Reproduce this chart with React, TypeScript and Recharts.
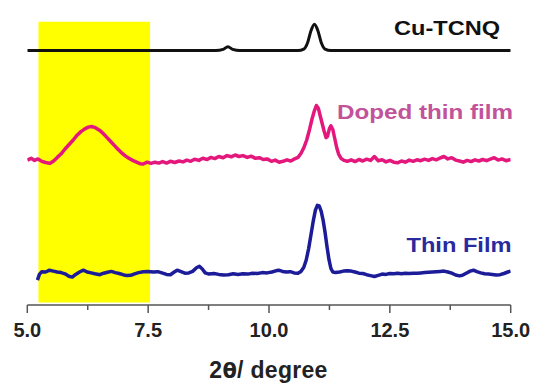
import React from 'react';
import { LineChart, Line, XAxis, YAxis, ReferenceArea } from 'recharts';

// ---------- data ----------
const allTicks = [5, 6.25, 7.5, 8.75, 10, 11.25, 12.5, 13.75, 15];
const majorTicks = [5, 7.5, 10, 12.5, 15];
const tickLabels = ['5.0', '7.5', '10.0', '12.5', '15.0'];
const highlightX = [5.23, 7.54];
const highlightY = [0.8, 94.4];

const seriesNames = ['Cu-TCNQ', 'Doped thin film', 'Thin Film'];
const axisTitle = ['2', 'θ', '/ degree'];

const cuX = [5.0, 8.9, 9.05, 9.15, 9.25, 9.4, 10.6, 10.72, 10.8, 10.87, 10.94, 11.01, 11.08, 11.16, 11.28, 15.0];
const cuY = [84.8, 84.8, 85.2, 86.1, 85.2, 84.8, 84.8, 85.3, 87.5, 91.5, 93.6, 91.5, 87.5, 85.3, 84.8, 84.8];

const dopedX = [
  5.0, 5.08, 5.15, 5.22, 5.3, 5.38, 5.47, 5.55, 5.62, 5.7, 5.78, 5.86, 5.95, 6.03, 6.11, 6.19, 6.26, 6.33,
  6.41, 6.5, 6.58, 6.65, 6.72, 6.8, 6.87, 6.94, 7.02, 7.1, 7.18, 7.26, 7.33, 7.4, 7.48, 7.56, 7.64, 7.72,
  7.8, 7.88, 7.96, 8.05, 8.14, 8.22, 8.3, 8.38, 8.46, 8.55, 8.63, 8.72, 8.8, 8.88, 8.96, 9.05, 9.13, 9.22,
  9.3, 9.38, 9.46, 9.55, 9.63, 9.72, 9.8, 9.88, 9.96, 10.05, 10.13, 10.21, 10.29, 10.37, 10.45, 10.53,
  10.6, 10.66, 10.72, 10.78, 10.84, 10.89, 10.94, 10.98, 11.02, 11.06, 11.1, 11.14, 11.18, 11.21, 11.25,
  11.28, 11.32, 11.36, 11.4, 11.44, 11.49, 11.55, 11.62, 11.7, 11.78, 11.86, 11.94, 12.02, 12.1, 12.18,
  12.26, 12.34, 12.42, 12.5, 12.58, 12.66, 12.74, 12.82, 12.9, 12.98, 13.06, 13.14, 13.22, 13.3, 13.38,
  13.46, 13.54, 13.62, 13.7, 13.78, 13.86, 13.94, 14.02, 14.1, 14.18, 14.26, 14.34, 14.42, 14.5, 14.58,
  14.66, 14.74, 14.82, 14.9, 15.0,
];
const dopedY = [
  48.3, 48.9, 48.2, 48.7, 47.9, 47.5, 47.2, 48.1, 49.2, 50.4, 52.0, 53.4, 55.0, 56.6, 57.8, 58.7, 59.3, 59.5,
  59.1, 58.2, 57.0, 55.8, 54.6, 53.2, 52.0, 50.9, 49.8, 48.9, 48.2, 47.6, 47.1, 47.0, 47.6, 47.2, 47.6, 47.3,
  47.8, 47.3, 47.9, 47.5, 48.0, 47.7, 48.3, 47.9, 48.6, 48.2, 48.9, 48.5, 49.2, 48.8, 49.5, 49.1, 49.8, 49.4,
  50.0, 49.5, 49.8, 49.2, 49.6, 48.9, 49.1, 48.5, 48.7, 47.9, 48.3, 47.6, 47.9, 48.4, 48.0, 48.7,
  49.2, 50.5, 52.4, 55.0, 58.6, 62.0, 64.8, 66.5, 65.6, 63.0, 60.5, 58.0, 55.8, 56.2, 58.8,
  59.7, 58.5, 55.5, 52.5, 50.3, 48.9, 48.2, 47.9, 48.4, 47.8, 48.5, 48.0, 48.6, 48.2, 49.5,
  48.1, 48.4, 47.7, 48.2, 47.6, 47.4, 48.0, 47.6, 48.3, 47.9, 48.4, 48.1, 48.6, 48.2, 48.8,
  48.4, 49.0, 49.5, 48.7, 49.1, 48.3, 48.0, 47.6, 48.2, 47.8, 48.4, 48.0, 48.5, 48.1, 48.6,
  49.1, 48.3, 48.7, 48.1, 48.5,
];

const filmX = [
  5.21, 5.25, 5.3, 5.38, 5.46, 5.54, 5.62, 5.7, 5.78, 5.86, 5.93, 6.0, 6.08, 6.16, 6.24, 6.32, 6.4, 6.5,
  6.58, 6.66, 6.74, 6.82, 6.9, 6.98, 7.06, 7.14, 7.22, 7.3, 7.4, 7.5, 7.6, 7.7, 7.8, 7.88, 7.96, 8.04,
  8.1, 8.18, 8.26, 8.34, 8.42, 8.5, 8.56, 8.62, 8.68, 8.76, 8.86, 8.96, 9.06, 9.16, 9.26, 9.36, 9.46,
  9.56, 9.66, 9.76, 9.86, 9.96, 10.06, 10.14, 10.2, 10.28, 10.36, 10.44, 10.52, 10.6, 10.66, 10.72,
  10.77, 10.82, 10.87, 10.92, 10.96, 11.0, 11.04, 11.08, 11.12, 11.16, 11.2, 11.24, 11.28, 11.32,
  11.38, 11.46, 11.54, 11.62, 11.7, 11.78, 11.86, 11.94, 12.02, 12.1, 12.18, 12.26, 12.34, 12.42,
  12.5, 12.58, 12.66, 12.74, 12.82, 12.9, 12.98, 13.06, 13.14, 13.22, 13.3, 13.38, 13.46, 13.54,
  13.62, 13.7, 13.78, 13.86, 13.94, 14.0, 14.08, 14.16, 14.23, 14.3, 14.38, 14.46, 14.54, 14.62,
  14.7, 14.78, 14.86, 14.94, 15.0,
];
const filmY = [
  8.3, 10.2, 11.1, 11.0, 11.6, 11.3, 11.0, 10.8, 10.4, 9.6, 9.3, 10.2, 11.0, 11.6, 11.0, 10.7, 10.4, 10.1,
  10.6, 10.9, 11.2, 10.8, 10.5, 10.1, 9.8, 9.9, 10.4, 10.8, 11.1, 11.2, 11.0, 11.1, 10.6, 10.2, 10.1, 11.0,
  11.6, 11.1, 10.6, 10.7, 11.2, 12.4, 12.9, 12.0, 10.7, 10.3, 10.5, 10.2, 10.0, 10.1, 10.4, 10.2, 10.4,
  10.3, 10.6, 10.5, 10.8, 10.7, 11.0, 11.4, 11.6, 11.2, 11.0, 11.1, 10.7, 10.6, 11.2, 12.6,
  15.0, 18.8, 23.6, 28.4, 31.6, 33.2, 33.0, 31.2, 28.2, 24.2, 19.4, 15.2, 12.2, 11.0,
  10.8, 11.0, 11.3, 11.4, 11.3, 11.0, 10.6, 10.5, 10.1, 9.8, 9.5, 9.9, 10.3, 10.2,
  10.5, 10.4, 10.6, 10.4, 10.6, 10.5, 10.6, 10.6, 10.7, 10.8, 10.9, 11.0, 11.1, 11.2,
  11.3, 11.0, 10.6, 10.0, 9.7, 9.9, 10.6, 11.3, 11.6, 11.1, 10.7, 10.4, 10.3, 10.2,
  10.0, 10.1, 10.5, 11.0, 11.3,
];

const cuData = cuX.map((x, i) => ({ x, y: cuY[i] }));
const dopedData = dopedX.map((x, i) => ({ x, y: dopedY[i] }));
const filmData = filmX.map((x, i) => ({ x, y: filmY[i] }));

// ---------- rendering ----------
const AXIS_COLOR = '#555';

const Tick = (props: any) => {
  const { x, y, payload } = props;
  const idx = majorTicks.findIndex((m) => Math.abs(m - payload.value) < 1e-6);
  const major = idx >= 0;
  return (
    <g>
      <line x1={x} x2={x} y1={y} y2={y + (major ? 8 : 5)} stroke={AXIS_COLOR} strokeWidth={1.5} />
      {major && (
        <text
          x={x}
          y={y + 32}
          textAnchor="middle"
          fontFamily="'Liberation Sans', Arial, sans-serif"
          fontWeight="bold"
          fontSize={20}
          fill="#222"
        >
          {tickLabels[idx]}
        </text>
      )}
    </g>
  );
};

export default function App() {
  return (
    <div style={{ position: 'absolute', left: 0, top: 0, width: 535, height: 387, background: '#fff' }}>
      <LineChart
        width={535}
        height={387}
        margin={{ top: 5, right: 24.3, left: 27.3, bottom: 0 }}
      >
        <ReferenceArea
          x1={highlightX[0]}
          x2={highlightX[1]}
          y1={highlightY[0]}
          y2={highlightY[1]}
          fill="#ffff00"
          fillOpacity={1}
          stroke="none"
        />
        <XAxis
          type="number"
          dataKey="x"
          domain={[5, 15]}
          ticks={allTicks}
          interval={0}
          height={82}
          tickSize={0}
          tickMargin={0}
          tickLine={false}
          axisLine={{ stroke: AXIS_COLOR, strokeWidth: 1.5 }}
          tick={<Tick />}
          allowDataOverflow
        />
        <YAxis type="number" domain={[0, 100]} hide allowDataOverflow />
        <Line
          data={cuData}
          dataKey="y"
          type="monotone"
          stroke="#111"
          strokeWidth={3}
          dot={false}
          isAnimationActive={false}
        />
        <Line
          data={dopedData}
          dataKey="y"
          type="linear"
          stroke="#e3177c"
          strokeWidth={3.5}
          strokeLinejoin="round"
          dot={false}
          isAnimationActive={false}
        />
        <Line
          data={filmData}
          dataKey="y"
          type="linear"
          stroke="#1c1c98"
          strokeWidth={3.5}
          strokeLinejoin="round"
          dot={false}
          isAnimationActive={false}
        />
      </LineChart>
      <svg
        width={535}
        height={387}
        style={{ position: 'absolute', left: 0, top: 0, pointerEvents: 'none' }}
      >
        <g fontFamily="'Liberation Sans', Arial, sans-serif" fontWeight="bold" fontSize={20}>
          <text x={500} y={35} textAnchor="end" fill="#111" textLength={106} lengthAdjust="spacingAndGlyphs">
            {seriesNames[0]}
          </text>
          <text x={513} y={119} textAnchor="end" fill="#c2529a" textLength={176} lengthAdjust="spacingAndGlyphs">
            {seriesNames[1]}
          </text>
          <text x={511.5} y={251.5} textAnchor="end" fill="#2a2a9e" textLength={105} lengthAdjust="spacingAndGlyphs">
            {seriesNames[2]}
          </text>
        </g>
        <text
          x={268.5}
          y={378}
          textAnchor="middle"
          fontFamily="'Liberation Sans', Arial, sans-serif"
          fontWeight="bold"
          fontSize={23}
          fill="#222"
          letterSpacing={0.3}
        >
          {axisTitle[0]}
          <tspan fontFamily="'DejaVu Sans', sans-serif" fontSize={21}>{axisTitle[1]}</tspan>
          {axisTitle[2]}
        </text>
      </svg>
    </div>
  );
}
